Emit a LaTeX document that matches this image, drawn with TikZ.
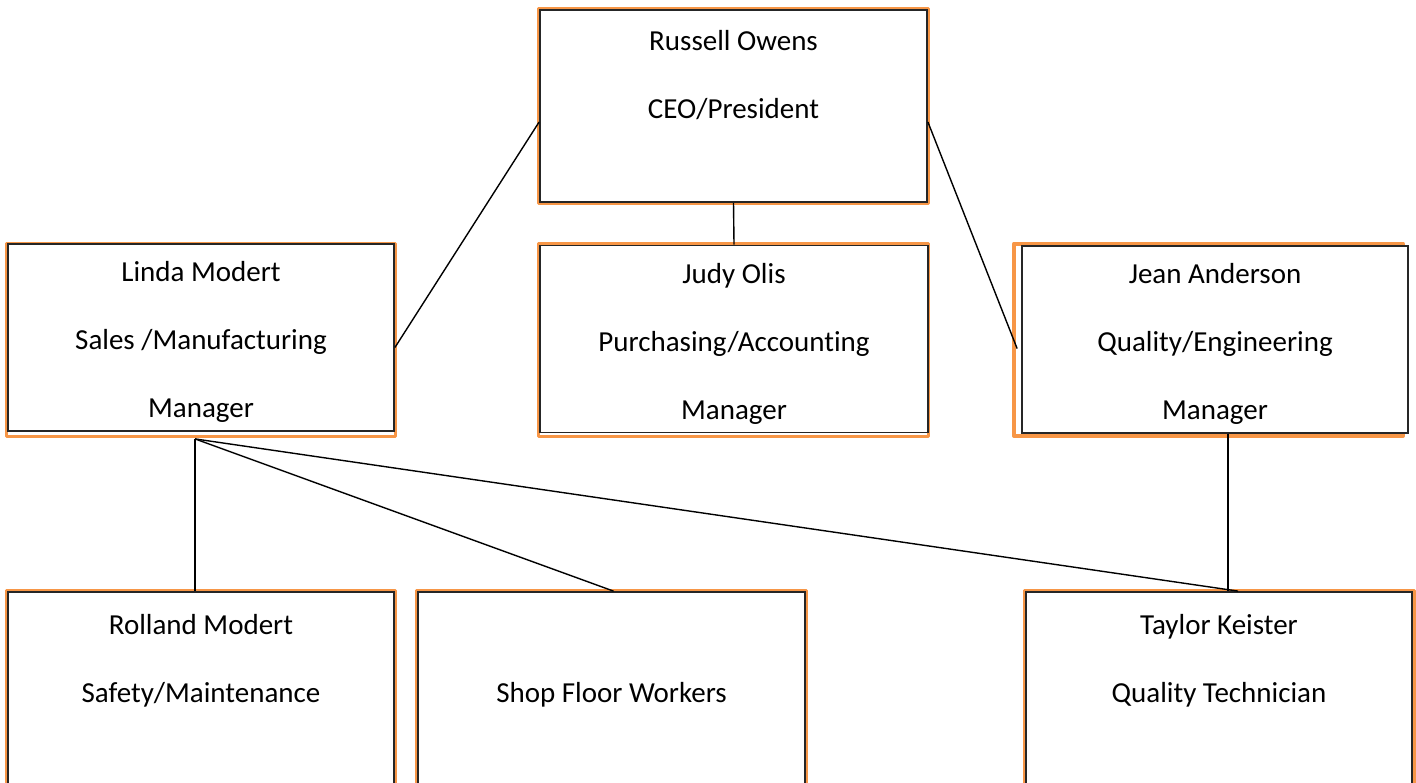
\documentclass[tikz,border=0pt]{standalone}
\usepackage{fontspec}
\setmainfont{Carlito}[Ligatures=CommonOff]
\usetikzlibrary{positioning, calc}
\definecolor{cFrame}{HTML}{F79646}
\definecolor{cEdge} {HTML}{262626}

\begin{document}
\begin{tikzpicture}[x=0.5pt, y=-0.5pt,
    orgbox/.style={draw=cEdge, line width=0.9pt, fill=white, align=center,
      inner sep=0pt, text height=84pt, text depth=4pt,
      font=\fontsize{14.5}{34}\selectfont},
    topbox/.style={orgbox, minimum width=193.5pt, minimum height=96pt},
    midbox/.style={orgbox, minimum width=193pt, minimum height=93.5pt},
    lowbox/.style={orgbox, minimum width=193pt, minimum height=98pt},
    orangeframe/.style={draw=cFrame, line width=1.5pt, line join=round},
    conn/.style={draw=black, line width=0.7pt}]
  \useasboundingbox (0,0) rectangle (1416,782);

  \draw[orangeframe] (538.5,8.5) rectangle (928,203.5);
  \draw[orangeframe] (6.5,243.5) rectangle (395,436);
  \draw[orangeframe] (538.5,243.5) rectangle (928.5,436);
  \draw[orangeframe, line width=2pt] (1014,243.5) rectangle (1403,436);
  \draw[orangeframe] (6.5,590.5) rectangle (395.5,800);
  \draw[orangeframe] (416.5,590.5) rectangle (806,800);
  \draw[orangeframe] (1024.5,590.5) rectangle (1414,800);

  \node[topbox] (russell) at (733.5,106) {\strut Russell Owens\\\strut CEO/President\\\strut};
  \node[midbox] (linda) at (201,337.5) {\strut Linda Modert\\\strut Sales /Manufacturing\\\strut Manager};
  \node[midbox, minimum width=194pt] (judy) at (734,339) {\strut Judy Olis\\\strut Purchasing/Accounting\\\strut Manager};
  \node[midbox] (jean) at (1215,339.5) {\strut Jean Anderson\\\strut Quality/Engineering\\\strut Manager};
  \node[lowbox] (rolland) at (201,690) {\strut Rolland Modert\\\strut Safety/Maintenance\\\strut};
  \node[lowbox, minimum width=193.5pt] (shop) at (611.5,690) {\strut\\\strut Shop Floor Workers\\\strut};
  \node[lowbox] (taylor) at (1219,690) {\strut Taylor Keister\\\strut Quality Technician\\\strut};

  \coordinate (lfork) at ([xshift=-3pt, yshift=-3.5pt]linda.south);
  \draw[conn] ([yshift=-8pt]russell.west) -- ([yshift=-5pt]linda.east);
  \draw[conn] ([yshift=-8pt]russell.east) -- ([xshift=-2pt, yshift=-4.5pt]jean.west);
  \draw[conn] (russell.south) -- (judy.north);
  \draw[conn] (lfork) -- (lfork |- rolland.north);
  \draw[conn] (lfork) -- ([xshift=1pt]shop.north);
  \draw[conn] (lfork) -- ([xshift=9.5pt]taylor.north);
  \draw[conn] ([xshift=6.5pt]jean.south) -- ([xshift=4.5pt]taylor.north);
\end{tikzpicture}
\end{document}
